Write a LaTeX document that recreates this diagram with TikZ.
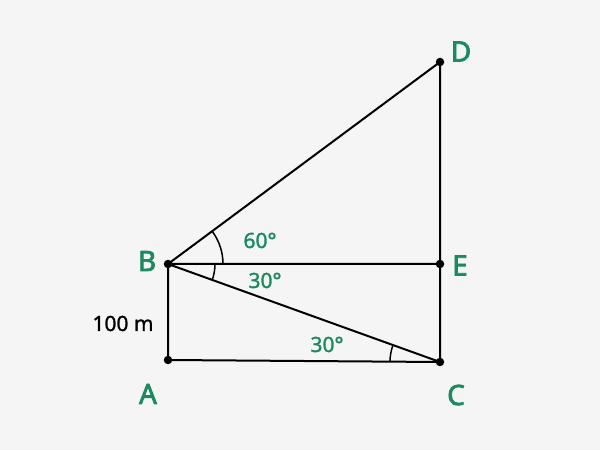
\documentclass[tikz,border=0pt]{standalone}
\usepackage{fontspec}
\setmainfont{Noto Sans}
\newfontfamily\lblbold[FakeBold=2.6]{Noto Sans}
\newfontfamily\lblmed[FakeBold=1.6]{Noto Sans}
\newfontfamily\lbllen[FakeBold=1.2]{Noto Sans}
\usetikzlibrary{angles}
\definecolor{bggray}{RGB}{245,245,245}
\definecolor{lblgreen}{RGB}{28,138,96}
\tikzset{
  pt/.style={circle,fill=black,inner sep=0pt,minimum size=8.5pt},
  seg/.style={line width=2pt,black},
  ptlabel/.style={anchor=base,inner sep=0pt,text=lblgreen,font=\lblbold\fontsize{28}{30}\selectfont},
  anglbl/.style={anchor=base,inner sep=0pt,text=lblgreen,font=\lblmed\fontsize{21}{24}\selectfont},
  lenlbl/.style={anchor=base,inner sep=0pt,text=black,font=\lbllen\fontsize{21}{24}\selectfont},
  angarc/.style={draw,line width=1.5pt}
}
\begin{document}
\begin{tikzpicture}[x=1pt,y=1pt]
\fill[bggray] (0,0) rectangle (600,450);
\useasboundingbox (0,0) rectangle (600,450);
\coordinate (B) at (168,186);
\coordinate (A) at (168,90);
\coordinate (C) at (440,88);
\coordinate (E) at (440,186);
\coordinate (D) at (440,388);
\draw[seg] (B) -- (D) -- (E) -- (C) -- (A) -- (B) -- (E);
\draw[seg] (B) -- (C);
\pic[angarc, angle radius=55pt] {angle = E--B--D};
\pic[angarc, angle radius=47pt] {angle = C--B--E};
\pic[angarc, angle radius=50pt] {angle = B--C--A};
\foreach \p in {A,B,C,D,E} \node[pt] (dot\p) at (\p) {};
\node[ptlabel] (lD) at (461,388.5) {D};
\node[ptlabel] (lB) at (147,179) {B};
\node[ptlabel] (lE) at (460,174.5) {E};
\node[ptlabel] (lA) at (148,46) {A};
\node[ptlabel] (lC) at (456,45) {C};
\node[anglbl] (a60) at (260,202) {60°};
\node[anglbl] (a30u) at (265,162) {30°};
\node[anglbl] (a30l) at (327,98) {30°};
\node[lenlbl] (len) at (123,119) {100 m};
\end{tikzpicture}
\end{document}
